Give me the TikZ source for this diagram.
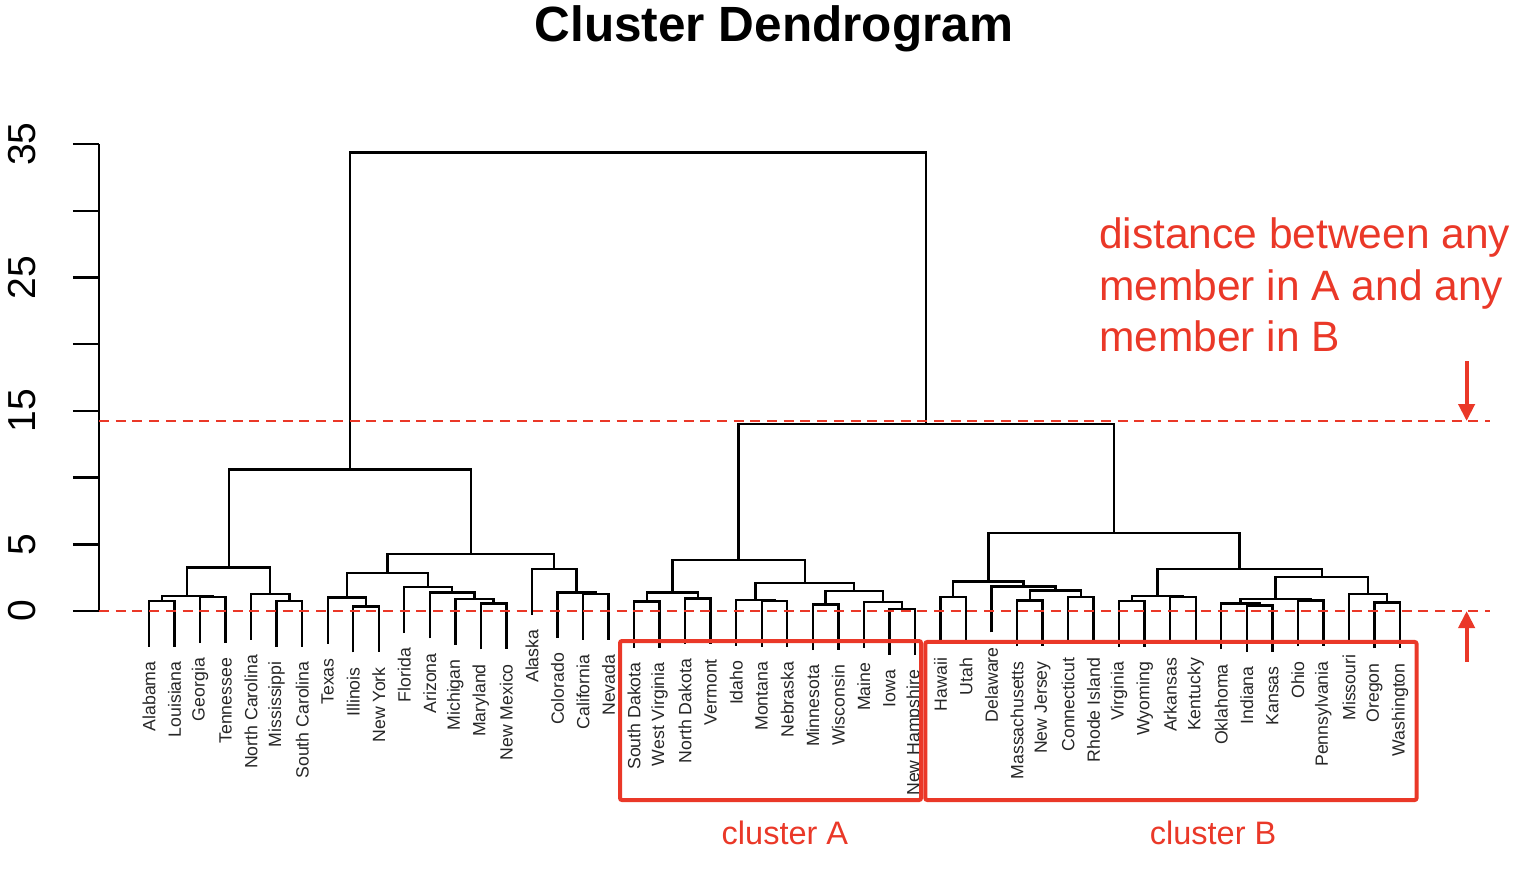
\documentclass[tikz,border=0pt]{standalone}
\usepackage{fontspec}
\setmainfont{Liberation Sans}
\usetikzlibrary{calc,arrows.meta}
\definecolor{clred}{RGB}{234,56,40}

% one merge of the tree: name, left child, right child, height
\newcommand\mergeat[4]{%
  \path ($(#2)!0.5!(#3)$) coordinate (#1-mid);
  \coordinate (#1) at (#1-mid |- 0,#4);
  \draw[tree] (#2) |- (#1) -| (#3);
}

\begin{document}
\begin{tikzpicture}[x = 25.53pt, y = 13.34pt,
    tree/.style = {line width = 2.4pt, black},
    leaf/.style = {rotate = 90, anchor = east, inner sep = 0pt, text = black!85,
                   font = \fontsize{17.7}{17.7}\selectfont},
    cut/.style = {clred, line width = 2pt, dash pattern = on 10pt off 6.7pt},
    clusterbox/.style = {clred, line width = 4pt, rounded corners = 2pt},
    pointer/.style = {clred, line width = 4pt, -{Triangle[length = 17pt, width = 16pt]}},
    redtext/.style = {text = clred, inner sep = 0pt}]
    \useasboundingbox (-5.836,-20.015) rectangle (54.093,45.802);

    \node[anchor = base, inner sep = 0pt, font = \bfseries\fontsize{49.5}{49.5}\selectfont]
        (title) at (24.48,42.67) {Cluster Dendrogram};

    % axis
    \draw[tree] (-1.958,0) -- (-1.958,35);
    \foreach \t in {0,5,...,35}
        \draw[tree] (-2.977,\t) -- (-1.958,\t);
    \foreach \t in {0,5,15,25,35}
        \node[rotate = 90, inner sep = 0pt, font = \fontsize{39}{39}\selectfont] (tick\t) at (-4.974,\t) {\t};

    % leaves (name / label / height of the parent)
    \foreach \s/\lab/\h [count = \i from 0] in {
        al/Alabama/0.77, la/Louisiana/0.77, ga/Georgia/1.03, tn/Tennessee/1.03,
        nc/North Carolina/1.28, ms/Mississippi/0.77, sc/South Carolina/0.77,
        tx/Texas/1.0, il/Illinois/0.33, ny/New York/0.33, fl/Florida/1.78,
        az/Arizona/1.38, mi/Michigan/0.92, md/Maryland/0.57, nm/New Mexico/0.57,
        ak/Alaska/3.16, co/Colorado/1.40, ca/California/1.28, nv/Nevada/1.28,
        sd/South Dakota/0.70, wv/West Virginia/0.70, nd/North Dakota/0.95, vt/Vermont/0.95,
        id/Idaho/0.83, mt/Montana/0.75, nb/Nebraska/0.75, mn/Minnesota/0.50,
        wi/Wisconsin/0.50, me/Maine/0.68, ia/Iowa/0.15, nh/New Hampshire/0.15,
        hi/Hawaii/1.03, ut/Utah/1.03, de/Delaware/1.83, ma/Massachusetts/0.78,
        nj/New Jersey/0.78, ct/Connecticut/1.03, ri/Rhode Island/1.03,
        va/Virginia/0.73, wy/Wyoming/0.73, ar/Arkansas/1.03, ky/Kentucky/1.03,
        ok/Oklahoma/0.57, ind/Indiana/0.40, ks/Kansas/0.40, oh/Ohio/0.78,
        pa/Pennsylvania/0.78, mo/Missouri/1.28, or/Oregon/0.63, wa/Washington/0.63}{
        \coordinate (\s) at (\i,\h-3.44);
        \node[leaf] (\s-lab) at (\i,\h-4.54) {\lab};
    }

    % left half
    \mergeat{a1}{al}{la}{0.77}
    \mergeat{a2}{ga}{tn}{1.03}
    \mergeat{a3}{a1}{a2}{1.13}
    \mergeat{a4}{ms}{sc}{0.77}
    \mergeat{a5}{nc}{a4}{1.28}
    \mergeat{a6}{a3}{a5}{3.26}
    \mergeat{b1}{il}{ny}{0.33}
    \mergeat{b2}{tx}{b1}{1.0}
    \mergeat{b3}{md}{nm}{0.57}
    \mergeat{b4}{mi}{b3}{0.92}
    \mergeat{b5}{az}{b4}{1.38}
    \mergeat{b6}{fl}{b5}{1.78}
    \mergeat{b7}{b2}{b6}{2.83}
    \mergeat{c1}{ca}{nv}{1.28}
    \mergeat{c2}{co}{c1}{1.40}
    \mergeat{c3}{ak}{c2}{3.16}
    \mergeat{c4}{b7}{c3}{4.28}
    \mergeat{L}{a6}{c4}{10.6}

    % cluster A
    \mergeat{d1}{sd}{wv}{0.70}
    \mergeat{d2}{nd}{vt}{0.95}
    \mergeat{d3}{d1}{d2}{1.38}
    \mergeat{d4}{mt}{nb}{0.75}
    \mergeat{d5}{id}{d4}{0.83}
    \mergeat{d6}{mn}{wi}{0.50}
    \mergeat{d7}{ia}{nh}{0.15}
    \mergeat{d8}{me}{d7}{0.68}
    \mergeat{d9}{d6}{d8}{1.50}
    \mergeat{d10}{d5}{d9}{2.08}
    \mergeat{A}{d3}{d10}{3.83}

    % cluster B
    \mergeat{e1}{hi}{ut}{1.03}
    \mergeat{e2}{ma}{nj}{0.78}
    \mergeat{e3}{ct}{ri}{1.03}
    \mergeat{e4}{e2}{e3}{1.53}
    \mergeat{e5}{de}{e4}{1.83}
    \mergeat{e6}{e1}{e5}{2.20}
    \mergeat{f1}{va}{wy}{0.73}
    \mergeat{f2}{ar}{ky}{1.03}
    \mergeat{f3}{f1}{f2}{1.13}
    \mergeat{f4}{ind}{ks}{0.40}
    \mergeat{f5}{ok}{f4}{0.57}
    \mergeat{f6}{oh}{pa}{0.78}
    \mergeat{f7}{f5}{f6}{0.88}
    \mergeat{f8}{or}{wa}{0.63}
    \mergeat{f9}{mo}{f8}{1.28}
    \mergeat{f10}{f7}{f9}{2.53}
    \mergeat{f11}{f3}{f10}{3.16}
    \mergeat{B}{e6}{f11}{5.84}

    \mergeat{AB}{A}{B}{14.02}
    \mergeat{root}{L}{AB}{34.36}

    % red marks
    \draw[cut] (-1.958,14.24) coordinate (cuttop) -- (52.53,14.24) coordinate (cuttopend);
    \draw[cut] (-1.958,0) coordinate (cutlow) -- (52.53,0) coordinate (cutlowend);
    \coordinate (downtail) at (51.61,18.74);
    \coordinate (downtip) at (51.61,14.24);
    \coordinate (uptail) at (51.61,-3.82);
    \coordinate (uptip) at (51.61,0);
    \draw[pointer] (downtail) -- (downtip);
    \draw[pointer] (uptail) -- (uptip);

    \draw[clusterbox] (18.45,-2.25) coordinate (boxA) rectangle (30.24,-14.17);
    \draw[clusterbox] (30.41,-2.32) coordinate (boxB) rectangle (49.65,-14.17);
    \node[redtext, font = \fontsize{32.5}{32.5}\selectfont] (labA) at (24.91,-16.64) {cluster A};
    \node[redtext, font = \fontsize{32.5}{32.5}\selectfont] (labB) at (41.68,-16.64) {cluster B};

    \foreach \line/\y [count = \k] in {distance between any/27.19, member in A and any/23.31, member in B/19.44}
        \node[redtext, anchor = base west, font = \fontsize{42.5}{42.5}\selectfont] (note\k) at (37.21,\y) {\line};
\end{tikzpicture}
\end{document}
